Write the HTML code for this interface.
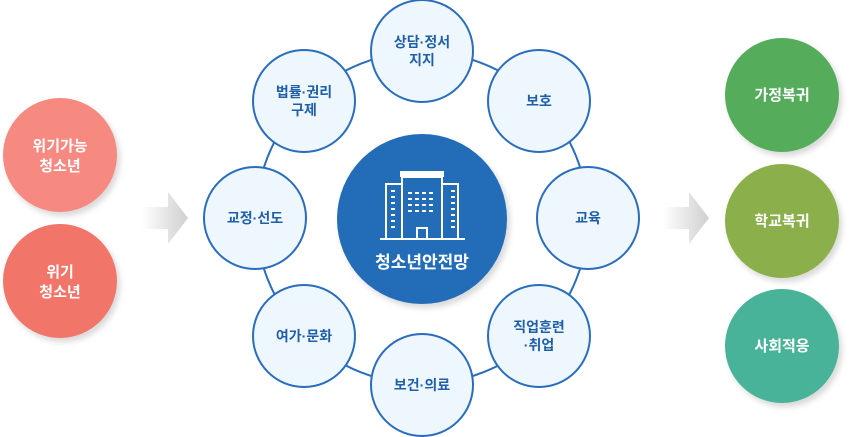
<!DOCTYPE html>
<html><head><meta charset="utf-8"><style>
html,body{margin:0;padding:0;background:#fff;}
svg{display:block;font-family:"Liberation Sans","Noto Sans CJK KR",sans-serif;}
</style></head><body>
<svg width="850" height="437" viewBox="0 0 850 437" xmlns="http://www.w3.org/2000/svg">
<defs>
<filter id="sh" x="-30%" y="-30%" width="160%" height="160%"><feDropShadow dx="3" dy="4" stdDeviation="3" flood-color="#000" flood-opacity="0.15"/></filter>
<linearGradient id="ar" x1="0" x2="1"><stop offset="0" stop-color="#fff"/><stop offset="1" stop-color="#cfcfcf"/></linearGradient>
</defs>
<!-- left circles -->
<circle cx="60" cy="155" r="57" fill="#f68a80" filter="url(#sh)"/>
<circle cx="60" cy="281" r="57" fill="#f2746b" filter="url(#sh)"/>
<g fill="#fff" font-size="15" font-weight="bold" text-anchor="middle">
<text x="60" y="151">위기가능</text><text x="60" y="171">청소년</text>
<text x="60" y="277">위기</text><text x="60" y="297">청소년</text>
</g>
<!-- arrows -->
<path d="M142 207 H168 V192 L188 218 L168 244 V229 H142 Z" fill="url(#ar)"/>
<path d="M663 207 H689 V192 L709 218 L689 244 V229 H663 Z" fill="url(#ar)"/>
<!-- ring -->
<circle cx="422" cy="218" r="166" fill="none" stroke="#2a6dbb" stroke-width="2"/>
<g fill="#eef6fe" stroke="#2a6dbb" stroke-width="2">
<circle cx="422" cy="51" r="51"/><circle cx="539" cy="101" r="51"/>
<circle cx="588" cy="218" r="51"/><circle cx="539" cy="336" r="51"/>
<circle cx="422" cy="385" r="51"/><circle cx="304" cy="336" r="51"/>
<circle cx="255" cy="218" r="51"/><circle cx="304" cy="101" r="51"/>
</g>
<g fill="#1f5fa8" font-size="14" font-weight="bold" text-anchor="middle">
<text x="422" y="47">상담·정서</text><text x="422" y="65">지지</text>
<text x="539" y="106">보호</text>
<text x="588" y="223">교육</text>
<text x="539" y="332">직업훈련</text><text x="539" y="350">·취업</text>
<text x="422" y="390">보건·의료</text>
<text x="304" y="341">여가·문화</text>
<text x="255" y="223">교정·선도</text>
<text x="304" y="97">법률·권리</text><text x="304" y="115">구제</text>
</g>
<!-- center -->
<circle cx="422" cy="219" r="85" fill="#206cb8" filter="url(#sh)"/>
<g fill="none" stroke="#fff" stroke-width="2">
<rect x="401" y="172" width="42" height="4" fill="#fff"/>
<rect x="402" y="177" width="40" height="62"/>
<rect x="386" y="184" width="16" height="55"/>
<rect x="442" y="184" width="16" height="55"/>
<rect x="417" y="228" width="10" height="11"/>
<line x1="380" y1="239" x2="465" y2="239"/>
</g>
<g fill="#fff">
<rect x="391" y="190" width="4" height="2"/><rect x="391" y="196" width="4" height="2"/><rect x="391" y="202" width="4" height="2"/><rect x="391" y="208" width="4" height="2"/><rect x="391" y="214" width="4" height="2"/><rect x="391" y="220" width="4" height="2"/><rect x="391" y="226" width="4" height="2"/>
<rect x="451" y="190" width="4" height="2"/><rect x="451" y="196" width="4" height="2"/><rect x="451" y="202" width="4" height="2"/><rect x="451" y="208" width="4" height="2"/><rect x="451" y="214" width="4" height="2"/><rect x="451" y="220" width="4" height="2"/><rect x="451" y="226" width="4" height="2"/>
<rect x="408" y="192" width="4" height="2"/><rect x="415" y="192" width="4" height="2"/><rect x="422" y="192" width="4" height="2"/><rect x="429" y="192" width="4" height="2"/>
<rect x="408" y="198" width="4" height="2"/><rect x="415" y="198" width="4" height="2"/><rect x="422" y="198" width="4" height="2"/><rect x="429" y="198" width="4" height="2"/>
<rect x="408" y="204" width="4" height="2"/><rect x="415" y="204" width="4" height="2"/><rect x="422" y="204" width="4" height="2"/><rect x="429" y="204" width="4" height="2"/>
<rect x="408" y="210" width="4" height="2"/><rect x="415" y="210" width="4" height="2"/><rect x="422" y="210" width="4" height="2"/><rect x="429" y="210" width="4" height="2"/>
</g>
<text x="422" y="268" fill="#fff" font-size="17" font-weight="bold" text-anchor="middle">청소년안전망</text>
<!-- right circles -->
<circle cx="782" cy="95" r="57" fill="#55ad5c" filter="url(#sh)"/>
<circle cx="782" cy="221" r="57" fill="#8bb04b" filter="url(#sh)"/>
<circle cx="782" cy="346" r="57" fill="#48b39a" filter="url(#sh)"/>
<g fill="#fff" font-size="15" font-weight="bold" text-anchor="middle">
<text x="782" y="100">가정복귀</text>
<text x="782" y="226">학교복귀</text>
<text x="782" y="351">사회적응</text>
</g>
</svg>
</body></html>
